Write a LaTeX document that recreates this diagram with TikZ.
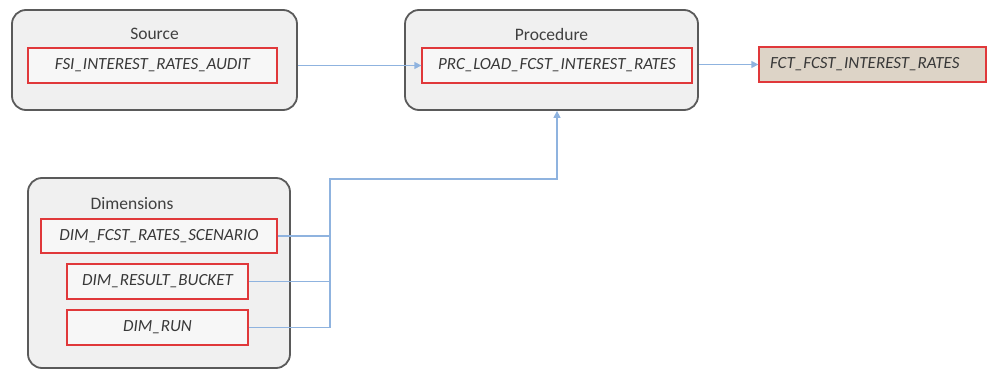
\documentclass[tikz,border=0pt]{standalone}
\usepackage{fontspec}
\setmainfont{Carlito}
\usetikzlibrary{positioning,calc,arrows.meta}
\definecolor{mgrey}{HTML}{5A5A5A}
\definecolor{mred}{HTML}{E0383A}
\definecolor{mblue}{HTML}{8FB3DF}
\definecolor{mtan}{HTML}{DDD4C7}
\tikzstyle{group}=[draw=mgrey, line width=1.8, fill=black!6, rounded corners=14pt]
\tikzstyle{tbl}=[draw=mred, line width=1.3, fill=black!3, font=\fontsize{17}{19}\selectfont\itshape, text=black!78]
\tikzstyle{title}=[font=\fontsize{17.5}{20}\selectfont, text=black!75]
\tikzstyle{flow}=[draw=mblue, line width=1.3, -{Triangle[width=7pt,length=7pt]}]
\tikzstyle{feed}=[draw=mblue, line width=1.3]

\begin{document}
\begin{tikzpicture}[x=1pt, y=-1pt]
    \useasboundingbox (0,0) rectangle (988,371);

    % source group
    \node (src) [group, minimum width=285, minimum height=100] at (154.5,60) {};
    \node (srcT) [title] at (154.5,34) {Source};
    \node (srcA) [tbl, minimum width=249, minimum height=35] at (152.5,65.5) {FSI\_INTEREST\_RATES\_AUDIT};

    % procedure group
    \node (proc) [group, minimum width=293, minimum height=100] at (551.5,60) {};
    \node (procT) [title] at (551.5,34) {Procedure};
    \node (procA) [tbl, minimum width=270, minimum height=35] at (557,65.5) {PRC\_LOAD\_FCST\_INTEREST\_RATES};

    % target table
    \node (fct) [tbl, fill=mtan, minimum width=227, minimum height=35, text width=205, align=left] at (872.5,64.5) {FCT\_FCST\_INTEREST\_RATES};

    % dimensions group
    \node (dim) [group, minimum width=262, minimum height=190] at (159,273) {};
    \node (dimT) [title] at (132,204) {Dimensions};
    \node (dimA) [tbl, minimum width=236, minimum height=34] at (159,236) {DIM\_FCST\_RATES\_SCENARIO};
    \node (dimB) [tbl, minimum width=181, minimum height=35] at (157.5,281.5) {DIM\_RESULT\_BUCKET};
    \node (dimC) [tbl, minimum width=181, minimum height=35] at (157.5,327.5) {DIM\_RUN};

    \coordinate (bus) at (330,179);

    \draw[flow] (src.east |- procA.west) -- (procA.west);
    \draw[flow] (proc.east |- fct.west) -- (fct.west);

    \draw[feed] (dimA.east) -- (dimA.east -| bus);
    \draw[feed] (dimB.east) -- (dimB.east -| bus);
    \draw[flow] (dimC.east) -| (bus) -| (proc.south -| procA.south);

\end{tikzpicture}
\end{document}
